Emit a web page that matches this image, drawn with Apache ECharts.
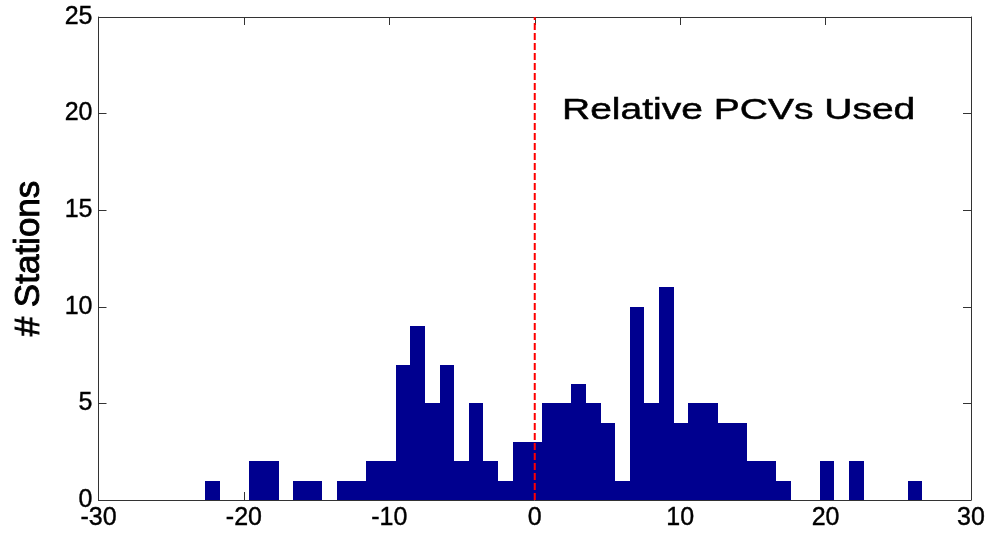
<!DOCTYPE html>
<html>
<head>
<meta charset="utf-8">
<script src="https://cdn.jsdelivr.net/npm/echarts@6/dist/echarts.min.js"></script>
<style>
html,body{margin:0;padding:0;background:#fff;}
#chart{width:991px;height:534px;}
</style>
</head>
<body>
<div id="chart"></div>
<script>
// Histogram bin centers (x values) and station counts
const binCenters = [-22.14,-21.13,-20.13,-19.12,-18.11,-17.11,-16.10,-15.10,-14.09,-13.09,
  -12.08,-11.07,-10.07,-9.06,-8.06,-7.05,-6.04,-5.04,-4.03,-3.03,
  -2.02,-1.01,-0.01,1.00,2.01,3.01,4.02,5.02,6.03,7.04,
  8.04,9.05,10.05,11.06,12.07,13.07,14.08,15.08,16.09,17.10,
  18.10,19.11,20.11,21.12,22.13,23.13,24.14,25.14,26.15];
const counts = [1,0,0,2,2,0,1,1,0,1,
  1,2,2,7,9,5,7,2,5,2,
  1,3,3,5,5,6,5,4,1,10,
  5,11,4,5,5,4,4,2,2,1,
  0,0,2,0,2,0,0,0,1];
const binWidth = 1.006;
const refLineX = [0, 0];
const refLineY = [0, 25];
const titleText = 'Relative PCVs Used';
const yName = '# Stations';

const FONT = '"Liberation Sans", Arial, Helvetica, sans-serif';
const chart = echarts.init(document.getElementById('chart'), null, {renderer: 'canvas'});
const barData = binCenters.map((c, i) => [c, counts[i]]);

const axisLineStyle = {color: '#333', width: 1};
const labelStyle = {color: '#000', fontSize: 25, fontFamily: FONT, margin: 6, textBorderColor: '#000', textBorderWidth: 0.4};
const option = {
  animation: false,
  backgroundColor: '#fff',
  grid: {left: 98.5, right: 20, top: 17, bottom: 34, containLabel: false},
  xAxis: [{
    type: 'value', min: -30, max: 30, interval: 10, position: 'bottom',
    axisLine: {show: true, onZero: false, lineStyle: axisLineStyle},
    axisTick: {show: true, inside: true, length: 8, lineStyle: axisLineStyle},
    axisLabel: labelStyle,
    splitLine: {show: false}
  }, {
    type: 'value', min: -30, max: 30, interval: 10, position: 'top',
    axisLine: {show: true, onZero: false, lineStyle: axisLineStyle},
    axisTick: {show: true, inside: true, length: 8, lineStyle: axisLineStyle},
    axisLabel: {show: false},
    splitLine: {show: false}
  }],
  yAxis: [{
    type: 'value', min: 0, max: 25, interval: 5, position: 'left',
    name: yName, nameLocation: 'middle', nameRotate: 90, nameGap: 52,
    nameTextStyle: {color: '#000', fontSize: 35, fontWeight: 'normal', fontFamily: FONT, textBorderColor: '#000', textBorderWidth: 0.9},
    axisLine: {show: true, onZero: false, lineStyle: axisLineStyle},
    axisTick: {show: true, inside: true, length: 8, lineStyle: axisLineStyle},
    axisLabel: labelStyle,
    splitLine: {show: false}
  }, {
    type: 'value', min: 0, max: 25, interval: 5, position: 'right',
    axisLine: {show: true, onZero: false, lineStyle: axisLineStyle},
    axisTick: {show: true, inside: true, length: 8, lineStyle: axisLineStyle},
    axisLabel: {show: false},
    splitLine: {show: false}
  }],
  series: [{
    type: 'custom',
    xAxisIndex: 0, yAxisIndex: 0,
    data: barData,
    renderItem: function (params, api) {
      const c = api.value(0), v = api.value(1);
      if (!v) return null;
      const p1 = api.coord([c - binWidth / 2, v]);
      const p2 = api.coord([c + binWidth / 2, 0]);
      const x1 = Math.round(p1[0]), x2 = Math.round(p2[0]);
      const y1 = Math.round(p1[1]), y2 = p2[1];
      return {
        type: 'rect',
        shape: {x: x1, y: y1, width: x2 - x1, height: y2 - y1},
        style: {fill: '#00008F'}
      };
    },
    z: 2
  }, {
    type: 'line',
    xAxisIndex: 0, yAxisIndex: 0,
    data: [[refLineX[0], refLineY[0]], [refLineX[1], refLineY[1]]],
    symbol: 'none',
    lineStyle: {color: '#FF0000', width: 2, type: [7, 3]},
    z: 3
  }],
  graphic: [{
    type: 'text',
    x: 562, y: 111,
    scaleX: 1.3,
    style: {text: titleText, fontSize: 30, fontFamily: FONT, fill: '#000', stroke: '#000', lineWidth: 0.5, textVerticalAlign: 'middle', textAlign: 'left'},
    z: 10
  }]
};
chart.setOption(option);
</script>
</body>
</html>
